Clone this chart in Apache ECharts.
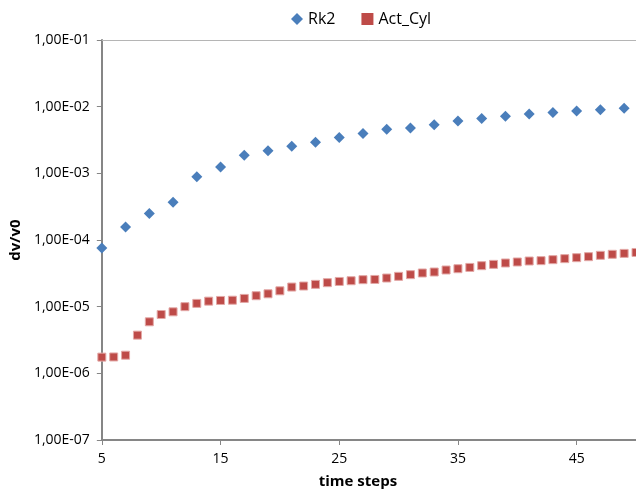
<!DOCTYPE html>
<html>
<head>
<meta charset="utf-8">
<script src="https://cdn.jsdelivr.net/npm/echarts@6/dist/echarts.min.js"></script>
<style>
  html, body { margin: 0; padding: 0; background: #fff; }
  #chart { width: 636px; height: 494px; }
</style>
</head>
<body>
<div id="chart"></div>
<script>
// time steps
const rk2Steps = [5, 7, 9, 11, 13, 15, 17, 19, 21, 23, 25, 27, 29, 31, 33, 35, 37, 39, 41, 43, 45, 47, 49];
const rk2Values = [7.6e-5, 1.57e-4, 2.5e-4, 3.68e-4, 8.85e-4, 1.24e-3, 1.87e-3, 2.18e-3, 2.55e-3, 2.93e-3,
  3.45e-3, 3.96e-3, 4.6e-3, 4.77e-3, 5.35e-3, 6.07e-3, 6.66e-3, 7.21e-3, 7.73e-3, 8.2e-3, 8.58e-3, 9.0e-3, 9.5e-3];

const cylSteps = [5, 6, 7, 8, 9, 10, 11, 12, 13, 14, 15, 16, 17, 18, 19, 20, 21, 22, 23, 24, 25, 26, 27,
  28, 29, 30, 31, 32, 33, 34, 35, 36, 37, 38, 39, 40, 41, 42, 43, 44, 45, 46, 47, 48, 49, 50];
const cylValues = [1.75e-6, 1.76e-6, 1.87e-6, 3.74e-6, 5.93e-6, 7.63e-6, 8.37e-6, 1.0e-5, 1.12e-5, 1.21e-5,
  1.24e-5, 1.25e-5, 1.33e-5, 1.46e-5, 1.56e-5, 1.73e-5, 1.97e-5, 2.04e-5, 2.16e-5, 2.29e-5, 2.39e-5, 2.45e-5, 2.54e-5,
  2.56e-5, 2.69e-5, 2.85e-5, 3.02e-5, 3.2e-5, 3.31e-5, 3.55e-5, 3.71e-5, 3.88e-5, 4.12e-5, 4.31e-5, 4.52e-5, 4.68e-5,
  4.84e-5, 4.9e-5, 5.07e-5, 5.25e-5, 5.43e-5, 5.62e-5, 5.89e-5, 6.1e-5, 6.3e-5, 6.5e-5];

const xTicks = [5, 15, 25, 35, 45];

const font = "'Open Sans', 'Liberation Sans', sans-serif";

// 1e-3 -> "1,00E-03"
function sciLabel(v) {
  const exp = Math.round(Math.log10(v));
  const mant = v / Math.pow(10, exp);
  const sign = exp < 0 ? '-' : '+';
  const e = String(Math.abs(exp)).padStart(2, '0');
  return mant.toFixed(2).replace('.', ',') + 'E' + sign + e;
}

const chart = echarts.init(document.getElementById('chart'));
chart.setOption({
  animation: false,
  legend: {
    top: 6,
    left: 286,
    itemGap: 26,
    itemWidth: 12,
    itemHeight: 12,
    textStyle: { fontFamily: font, fontSize: 16, color: '#000' },
    data: [
      { name: 'Rk2', icon: 'diamond' },
      { name: 'Act_Cyl', icon: 'rect', itemStyle: { borderWidth: 0 } }
    ]
  },
  grid: { left: 100, right: 0, top: 40, bottom: 54 },
  xAxis: [
    {
      type: 'value',
      min: 5,
      max: 50,
      name: 'time steps',
      nameLocation: 'middle',
      nameGap: 34,
      nameTextStyle: { fontFamily: font, fontSize: 15, fontWeight: 'bold', color: '#000', padding: [0, 22, 0, 0] },
      axisLine: { lineStyle: { color: '#868686', width: 2 } },
      axisTick: { show: true, length: 5, lineStyle: { color: '#868686' }, customValues: xTicks },
      axisLabel: { fontFamily: font, fontSize: 14, color: '#000', margin: 12, customValues: xTicks },
      splitLine: { show: false }
    },
    {
      type: 'value',
      position: 'top',
      min: 5,
      max: 50,
      axisLine: { show: true, lineStyle: { color: '#b5b5b5', width: 1 } },
      axisTick: { show: false },
      axisLabel: { show: false },
      splitLine: { show: false }
    }
  ],
  yAxis: {
    type: 'log',
    logBase: 10,
    min: 1e-7,
    max: 1e-1,
    name: 'dv/v0',
    nameLocation: 'middle',
    nameGap: 75,
    nameTextStyle: { fontFamily: font, fontSize: 15, fontWeight: 'bold', color: '#000' },
    axisLine: { show: true, lineStyle: { color: '#868686', width: 2 } },
    axisTick: { show: true, length: 5, lineStyle: { color: '#868686' } },
    axisLabel: { fontFamily: font, fontSize: 14, color: '#000', margin: 12, formatter: sciLabel },
    splitLine: { show: false },
    minorTick: { show: false }
  },
  series: [
    {
      name: 'Rk2',
      type: 'scatter',
      symbol: 'diamond',
      symbolSize: [11, 11],
      itemStyle: { color: '#4a7ebb', opacity: 1 },
      data: rk2Steps.map((s, i) => [s, rk2Values[i]])
    },
    {
      name: 'Act_Cyl',
      type: 'scatter',
      symbol: 'rect',
      symbolSize: 8,
      itemStyle: { color: '#be4b48', opacity: 1, borderColor: '#e3a8a6', borderWidth: 1 },
      data: cylSteps.map((s, i) => [s, cylValues[i]])
    }
  ]
});
</script>
</body>
</html>
